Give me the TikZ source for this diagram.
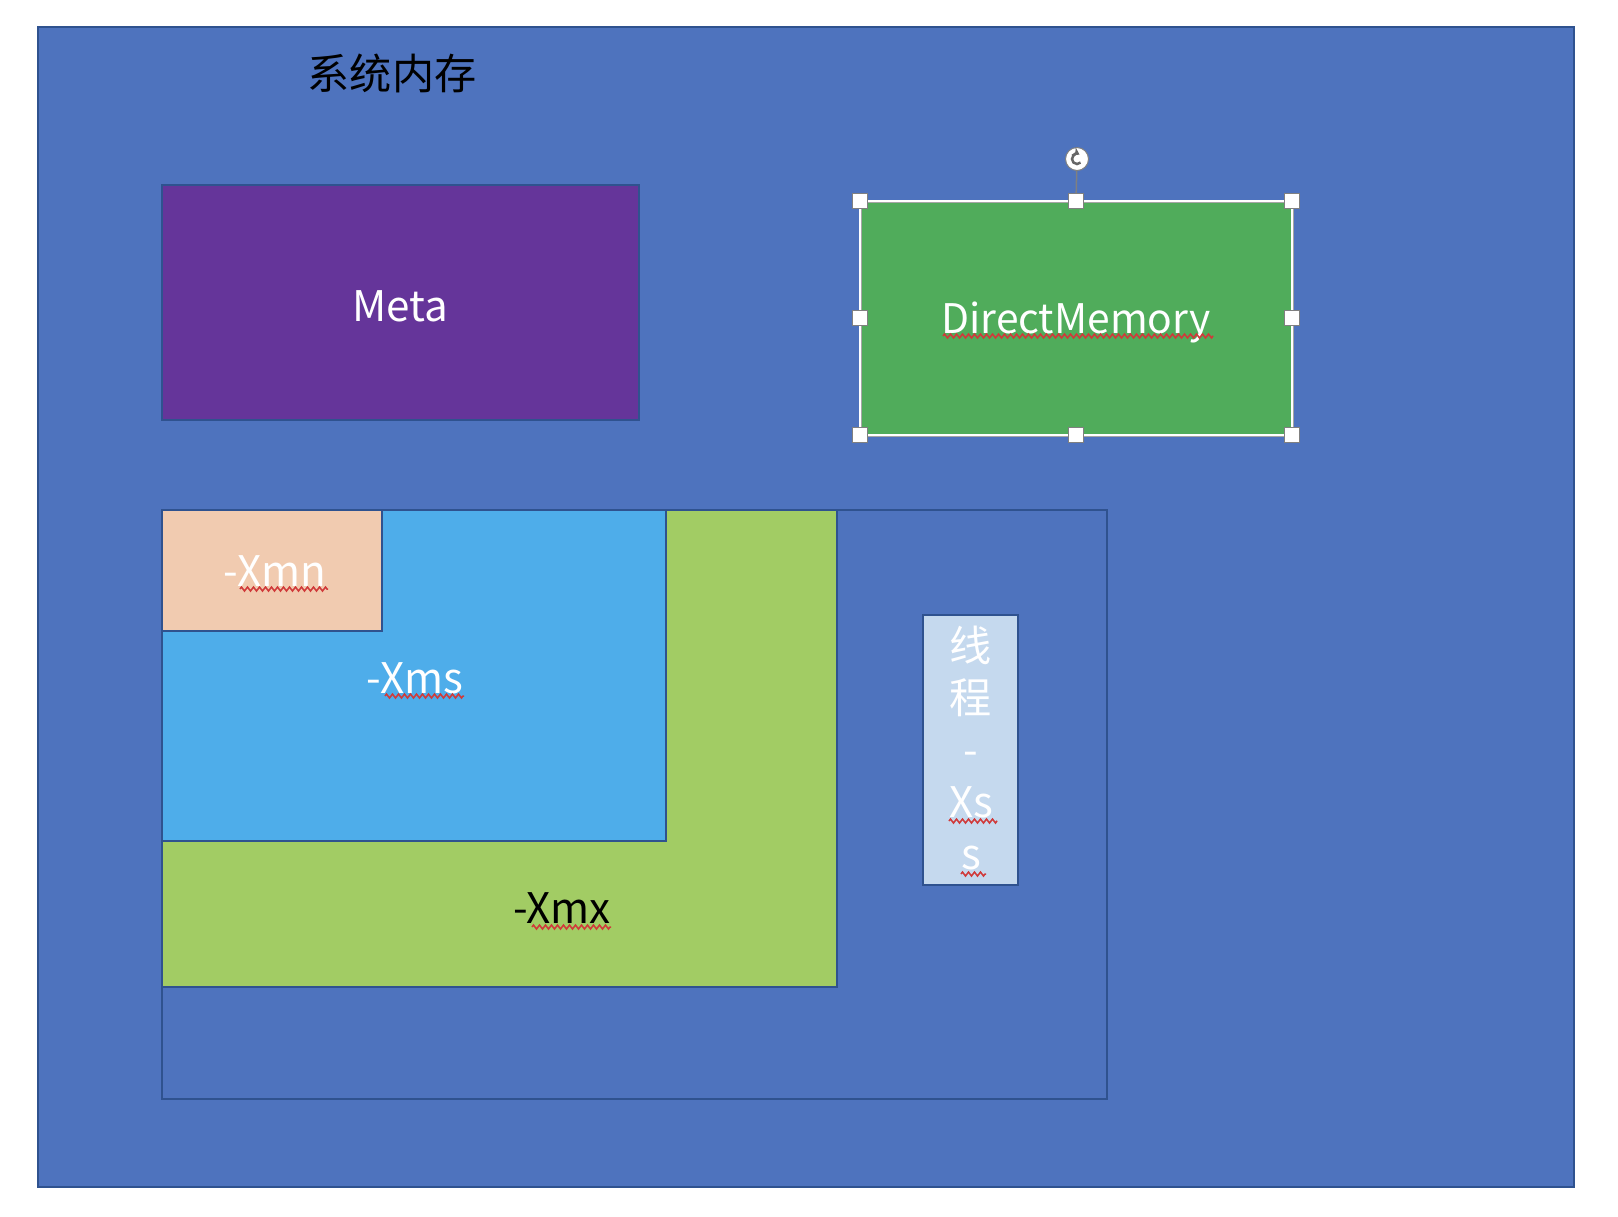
\documentclass[tikz,border=0pt]{standalone}
\usepackage{fontspec}
\setmainfont{Noto Sans CJK SC}
\usepackage{tikz}
\usetikzlibrary{arrows.meta,decorations,decorations.pathmorphing}
\definecolor{bgblue}{HTML}{4E73BE}
\definecolor{edgeblue}{HTML}{2F528F}
\definecolor{metapurple}{HTML}{65359A}
\definecolor{dmgreen}{HTML}{50AC5B}
\definecolor{xmxgreen}{HTML}{A2CC64}
\definecolor{xmsblue}{HTML}{4EADEA}
\definecolor{xmnpeach}{HTML}{F1CBB0}
\definecolor{xssblue}{HTML}{C5D9EE}
\definecolor{squigred}{HTML}{D03A3A}
\tikzset{blk/.style={draw=edgeblue,line width=0.15mm},lab/.style={inner sep=0pt,anchor=base,text=white,font=\fontsize{12}{14}\selectfont},hdl/.style={rectangle,draw=gray,fill=white,line width=0.1mm,minimum size=1.5mm,inner sep=0pt},squig/.style={draw=squigred,line width=0.15mm,decorate,decoration={zigzag,segment length=0.6mm,amplitude=0.2mm}}}

\begin{document}
\begin{tikzpicture}[x=0.1mm,y=-0.1mm]
  \useasboundingbox (0,0) rectangle (1618,1216);
  \fill[white] (0,0) rectangle (1618,1216);
  \draw[blk,fill=bgblue] (38,27) rectangle (1574,1187);
  \node[lab,text=black] (title) at (392,89) {系统内存};
  \draw[blk,fill=metapurple] (162,185) rectangle (639,420);
  \node[lab] (meta) at (400,321) {Meta};
  \draw[gray!70,line width=0.3mm,fill=dmgreen] (860,201) rectangle (1292,435);
  \draw[white,line width=0.15mm] (860,201) rectangle (1292,435);
  \node[lab,font=\fontsize{11.6}{14}\selectfont] (dm) at (1076,333) {DirectMemory};
  \draw[squig] (943,336) -- (1213,336);
  \foreach \x/\y [count=\i] in {860/201,1076/201,1292/201,860/318,1292/318,860/435,1076/435,1292/435}
    \node[hdl] (h\i) at (\x,\y) {};
  \node[circle,draw=gray,fill=white,line width=0.1mm,minimum size=2.3mm,inner sep=0pt] (rot) at (1077,159) {};
  \draw[gray,line width=0.15mm] (rot) -- (h2);
  \draw[gray!80!black,line width=0.25mm,-{Stealth[length=0.7mm,width=0.9mm]}] ([shift={(45:5)}]rot.center) arc[start angle=45,end angle=300,radius=5];
  \draw[blk,fill=bgblue] (162,510) rectangle (1107,1099);
  \draw[blk,fill=xmxgreen] (162,510) rectangle (837,987);
  \draw[blk,fill=xmsblue] (162,510) rectangle (666,841);
  \draw[blk,fill=xmnpeach] (162,510) rectangle (382,631);
  \draw[blk,fill=xssblue] (923,615) rectangle (1018,885);
  \node[lab] (xmn) at (275,586) {-Xmn};
  \draw[squig] (240,589) -- (328,589);
  \node[lab] (xms) at (415,693) {-Xms};
  \draw[squig] (385,696) -- (464,696);
  \node[lab,text=black] (xmx) at (562,923) {-Xmx};
  \draw[squig] (532,927) -- (611,927);
  \foreach \t [count=\i] in {线,程,-,Xs,s}
    \node[lab] (ln\i) at (971,{661+52*(\i-1)}) {\t};
  \draw[squig] (949,821) -- (997,821);
  \draw[squig] (961,874) -- (986,874);
\end{tikzpicture}
\end{document}
